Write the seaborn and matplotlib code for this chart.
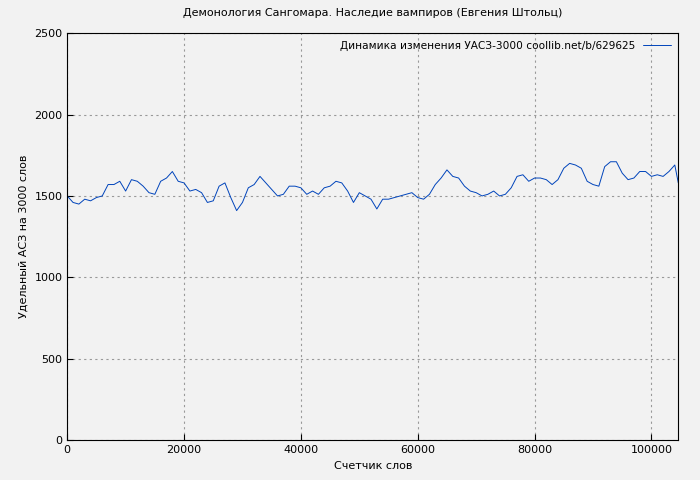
import matplotlib
matplotlib.use("Agg")
import matplotlib.pyplot as plt
import seaborn as sns
import pandas as pd

words = [i*1000 for i in range(105)] + [104600]
values = [1500,1460,1450,1480,1470,1490,1500,1570,1570,1590,1530,1600,1590,1560,1520,1510,1590,1610,1650,1590,
          1580,1530,1540,1520,1460,1470,1560,1580,1490,1410,1460,1550,1570,1620,1580,1540,1500,1510,1560,1560,
          1550,1510,1530,1510,1550,1560,1590,1580,1530,1460,1520,1500,1480,1420,1480,1480,1490,1500,1510,1520,
          1490,1480,1510,1570,1610,1660,1620,1610,1560,1530,1520,1500,1510,1530,1500,1510,1550,1620,1630,1590,
          1610,1610,1600,1570,1600,1670,1700,1690,1670,1590,1570,1560,1680,1710,1710,1640,1600,1610,1650,1650,
          1620,1630,1620,1650,1690,1580]
df = pd.DataFrame({"words": words, "uas": values})

sns.set_style("white")
plt.rcParams['font.family'] = ['DejaVu Sans']
plt.rcParams['text.color'] = 'black'
fig, ax = plt.subplots(figsize=(7, 4.8), dpi=100)
fig.patch.set_facecolor("#f2f2f2")
ax.set_facecolor("#f2f2f2")
sns.lineplot(data=df, x="words", y="uas", ax=ax, color="#0044bb", linewidth=0.7,
             label="Динамика изменения УАСЗ-3000 coollib.net/b/629625")
ax.set_xlim(0, 104600)
ax.set_ylim(0, 2500)
ax.set_xticks([0, 20000, 40000, 60000, 80000, 100000])
ax.set_yticks([0, 500, 1000, 1500, 2000, 2500])
ax.grid(True, color="#999999", linestyle=(0, (2, 3)), linewidth=0.8)
for s in ax.spines.values():
    s.set_color("black")
ax.tick_params(labelsize=8, direction="in", length=4, left=True, bottom=True, colors="black")
ax.set_xlabel("Счетчик слов", fontsize=8, color="black")
ax.set_ylabel("Удельный АСЗ на 3000 слов", fontsize=8, color="black")
ax.set_title("Демонология Сангомара. Наследие вампиров (Евгения Штольц)", fontsize=8, pad=12, color="black")
leg = ax.legend(loc="upper right", frameon=False, fontsize=7.6, markerfirst=False, handlelength=2.6,
                borderaxespad=0.3)
for t in leg.get_texts():
    t.set_color("black")
fig.subplots_adjust(left=0.096, right=0.969, top=0.931, bottom=0.083)
fig.savefig("out.png", dpi=100, facecolor=fig.get_facecolor())
